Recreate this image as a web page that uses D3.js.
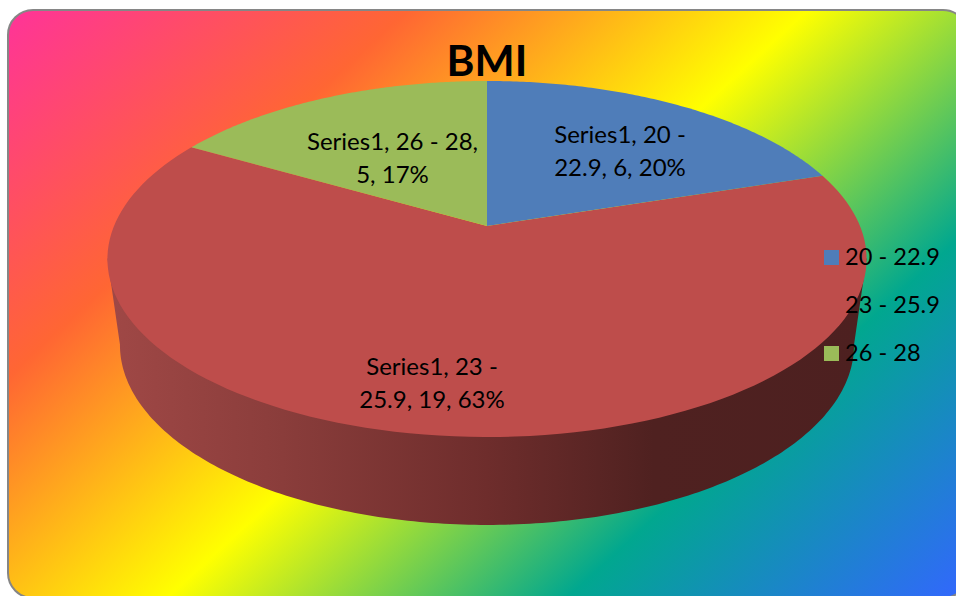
<!DOCTYPE html>
<html>
<head>
<meta charset="utf-8">
<script src="https://cdn.jsdelivr.net/npm/d3@7"></script>
<style>
html,body{margin:0;padding:0;background:#fff;overflow:hidden}
svg{display:block}
text{font-family:Lato,"Open Sans",sans-serif;fill:#000}
</style>
</head>
<body>
<script>
const chartTitle = "BMI";
const seriesName = "Series1";
const categories = ["20 - 22.9", "23 - 25.9", "26 - 28"];
const values = [6, 19, 5];
const colors = ["#4F7DB9", "#BE4D4B", "#9BBB59"];
const labelLines = [
  ["Series1, 20 -", "22.9, 6, 20%"],
  ["Series1, 23 -", "25.9, 19, 63%"],
  ["Series1, 26 - 28,", "5, 17%"]
];
const labelAnchors = [[620, 143], [432, 375], [392.5, 150]];
const bgStops = [[0, "#ff3399"], [0.25, "#ff6633"], [0.5, "#ffff00"], [0.75, "#01a78f"], [1, "#3366ff"]];
const wallStops = [[0, "#a04846"], [0.23, "#8a3d3b"], [0.5, "#6e2d2c"], [0.72, "#4f2120"], [1, "#4d2020"]];

const W = 956, H = 596;
const svg = d3.select("body").append("svg").attr("width", W).attr("height", H);
const defs = svg.append("defs");

const bg = defs.append("linearGradient").attr("id", "bg").attr("gradientUnits", "userSpaceOnUse")
  .attr("x1", 8).attr("y1", 10).attr("x2", 739).attr("y2", 807);
bg.selectAll("stop").data(bgStops).join("stop")
  .attr("offset", d => d[0]).attr("stop-color", d => d[1]);

const wallG = defs.append("linearGradient").attr("id", "wall").attr("gradientUnits", "userSpaceOnUse")
  .attr("x1", 108).attr("y1", 0).attr("x2", 866).attr("y2", 0);
wallG.selectAll("stop").data(wallStops).join("stop")
  .attr("offset", d => d[0]).attr("stop-color", d => d[1]);

svg.append("rect").attr("x", 8).attr("y", 10).attr("width", 960).attr("height", 588)
  .attr("rx", 25).attr("ry", 25).attr("fill", "url(#bg)")
  .attr("stroke", "#868686").attr("stroke-width", 2);

// Perspective projection of the pie disc
const cx = 487, cy = 226, A = 373, B = 171.9, k = 0.1854;
const project = (a, sx = 1, sy = 1, y0 = cy) => {
  const X = Math.sin(a), Y = -Math.cos(a), d = 1 - k * Y;
  return [cx + sx * A * X / d, y0 + sy * B * Y / d];
};
const line = d3.line();
const angleSteps = (a0, a1, n = 120) => d3.range(n + 1).map(i => a0 + (a1 - a0) * i / n);

// Side wall
const full = angleSteps(0, 2 * Math.PI, 720);
const wallSx = 0.967, wallSy = 1.011, wallY0 = 311.6;
const rightA = d3.greatest(full, a => project(a)[0]);
const leftA = d3.least(full, a => project(a)[0]);
const wallPts = [project(rightA)]
  .concat(angleSteps(rightA, leftA, 200).map(a => project(a, wallSx, wallSy, wallY0)))
  .concat([project(leftA)]);
svg.append("path").attr("d", line(wallPts) + "Z").attr("fill", "url(#wall)");

// Top face
const pie = d3.pie().sort(null).value(d => d)(values);
const draw = [1, 2, 0];
svg.append("g").selectAll("path").data(draw.map(i => pie[i])).join("path")
  .attr("d", d => line([[cx, cy]].concat(angleSteps(d.startAngle, d.endAngle).map(a => project(a)))) + "Z")
  .attr("fill", d => colors[d.index]);

// Data labels
const labels = svg.append("g").selectAll("g").data(categories).join("g");
labels.each(function (c, i) {
  d3.select(this).selectAll("text").data(labelLines[i]).join("text")
    .attr("x", labelAnchors[i][0])
    .attr("y", (d, j) => labelAnchors[i][1] + j * 33)
    .attr("text-anchor", "middle")
    .attr("font-size", 24)
    .text(d => d);
});

// Title
svg.append("text").attr("x", 487).attr("y", 76).attr("text-anchor", "middle")
  .attr("font-size", 42.5).attr("font-weight", 700).text(chartTitle);

// Legend
const legendY = d3.scalePoint().domain(categories).range([265, 361]);
const legend = svg.append("g").selectAll("g").data(categories).join("g");
legend.append("rect").attr("x", 824).attr("y", d => legendY(d) - 15)
  .attr("width", 15).attr("height", 15).attr("fill", (d, i) => colors[i]);
legend.append("text").attr("x", 845).attr("y", d => legendY(d)).attr("font-size", 23.6).text(d => d);
</script>
</body>
</html>
